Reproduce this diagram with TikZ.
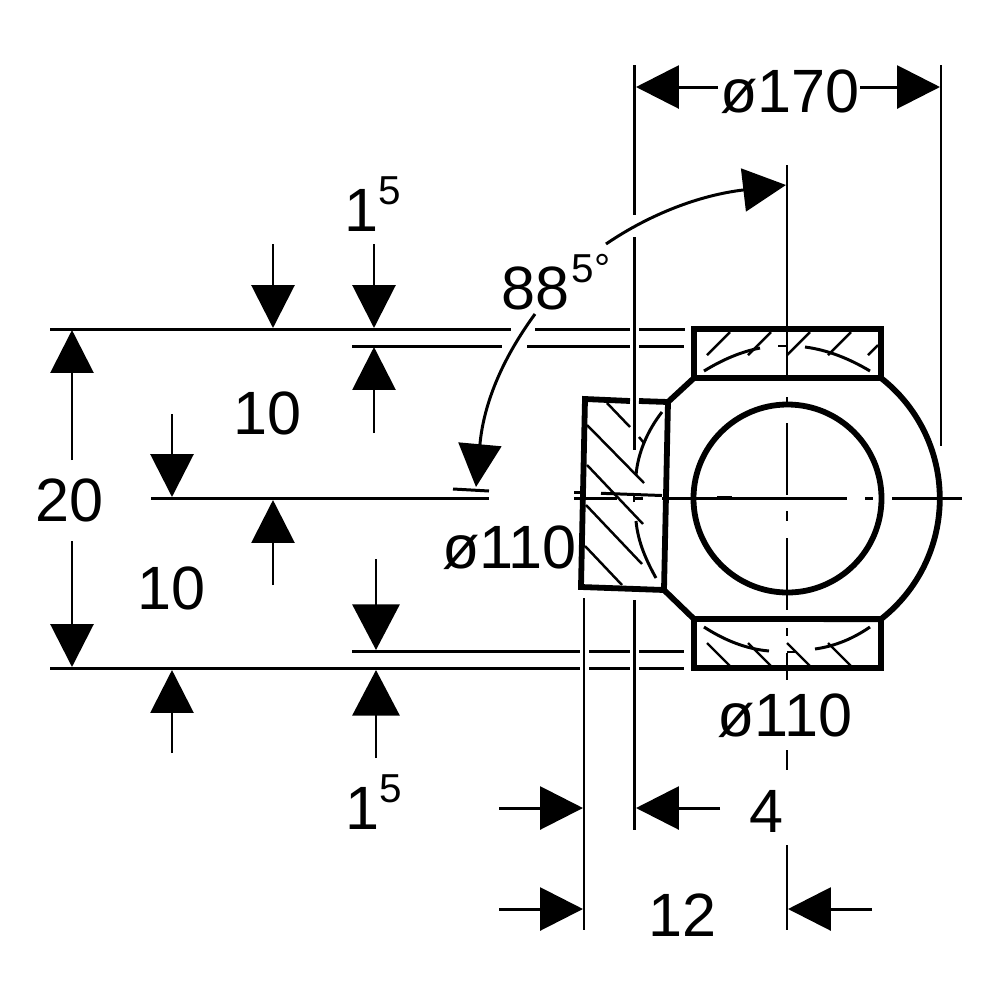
\documentclass[tikz,border=0pt]{standalone}
\usepackage{fontspec}
\setmainfont{Liberation Sans}
\usetikzlibrary{arrows.meta}
\tikzset{
  thinline/.style={line width=0.85pt},
  thickline/.style={line width=1.65pt, line join=miter},
  hatchline/.style={line width=0.7pt},
  seatline/.style={line width=0.85pt},
  dimarrow/.style={line width=0.85pt, -{Triangle[length=12.2pt,width=12.2pt]}},
  bigarrow/.style={line width=0.85pt, -{Triangle[length=13pt,width=13.4pt]}},
  dimtext/.style={inner sep=0pt, font=\fontsize{17.4}{20}\selectfont}
}
\newcommand{\raisednum}[1]{\raisebox{2.7mm}{\fontsize{11.5}{13}\selectfont #1}}
\begin{document}
\begin{tikzpicture}[x=0.1mm,y=-0.1mm]
    \useasboundingbox (0,0) rectangle (1000,1000);
    %ball body
    \draw [thickline] (694,378) -- (881,378) arc [start angle=-52, end angle=52, radius=153] -- (694,619) -- (664,590);
    \draw [thickline] (668,402) -- (694,378);
    \draw [thickline] (787.5,498.5) circle [radius=94];
    %seat rings
    \draw [thickline] (694,329) rectangle (881,378);
    \draw [thickline] (694,619) rectangle (881,668);
    %side ring
    \draw [thickline] (630,401) -- (585,399) -- (581,587) -- (664,590) -- (668,402) -- (639,401);
    %hatching
    \foreach \x in {707,748,787,828} {
        \draw [hatchline] (\x,355) -- ++(23,-23);
        \draw [hatchline] (\x,643) -- ++(24,24);
    }
    \draw [hatchline] (868,355) -- (878,345);
    \draw [hatchline] (607,403) -- (630,427);
    \draw [hatchline] (587,425) -- (644,483);
    \draw [hatchline] (587,465) -- (643,524);
    \draw [hatchline] (586,505) -- (642,564);
    \draw [hatchline] (585,546) -- (622,585);
    \draw [hatchline] (639,437) -- (644,443);
    \draw [hatchline] (778,346) -- (787,346);
    \draw [hatchline] (787,652) -- (795,652);
    %seat curves
    \draw [seatline] (704,371) .. controls (722,360) and (740,352) .. (760,348);
    \draw [seatline] (805,347) .. controls (828,350) and (850,359) .. (870,371);
    \draw [seatline] (704,627) .. controls (724,640) and (746,649) .. (769,651);
    \draw [seatline] (815,649) .. controls (836,646) and (854,638) .. (870,627);
    \draw [seatline] (662,412) .. controls (648,430) and (638,452) .. (636,475);
    \draw [seatline] (636,521) .. controls (638,542) and (646,560) .. (656,578);
    %centre lines
    \draw [thinline] (787,165) -- (787,378);
    \foreach \a/\b in {397/405,423/495,511/521,538/610,628/636,653/680,750/770} {
        \draw [thinline] (787,\a) -- (787,\b);
    }
    \foreach \a/\b in {574/617,634/643,662/847,865/873,892/962} {
        \draw [thinline] (\a,498) -- (\b,498);
    }
    \draw [thinline] (574,492) -- (583,492);
    \draw [thinline] (601,493.3) -- (662,495.5);
    \draw [thinline] (717,497) -- (732,497);
    \draw [thinline] (750,498) -- (758,498);
    \draw [thinline] (634,495) -- (634,502);
    %extension lines
    \draw [thinline] (50,329) -- (511,329);
    \draw [thinline] (535,329) -- (630,329);
    \draw [thinline] (639,329) -- (685,329);
    \draw [thinline] (352,346) -- (502,346);
    \draw [thinline] (527,346) -- (630,346);
    \draw [thinline] (639,346) -- (684,346);
    \draw [thinline] (151,498) -- (489,498);
    \draw [thinline] (453,489) -- (489,491);
    \draw [thinline] (352,651) -- (580,651);
    \draw [thinline] (589,651) -- (630,651);
    \draw [thinline] (639,651) -- (684,651);
    \draw [thinline] (50,668) -- (580,668);
    \draw [thinline] (589,668) -- (630,668);
    \draw [thinline] (639,668) -- (684,668);
    \draw [thinline] (634.5,65) -- (634.5,215);
    \draw [thinline] (634.5,237) -- (634.5,450);
    \draw [thinline] (634.5,600) -- (634.5,830);
    \draw [thinline] (584,598) -- (584,930);
    \draw [thinline] (941,65) -- (941,446);
    \draw [thinline] (787,845) -- (787,930);
    %dimension arrows
    \foreach \x/\a/\b in {273/244/328,374/244/328,172/414/497,374/433/347,273/585/500,172/753/670,72/460/330,72/541/667} {
        \draw [dimarrow] (\x,\a) -- (\x,\b);
    }
    \foreach \a/\b in {559/650,758/670} {
        \draw [bigarrow] (376,\a) -- (376,\b);
    }
    \foreach \a/\b/\y in {718/636/87,860/940/87,499/583/808,720/636/808,499/583/909,872/788/909} {
        \draw [dimarrow] (\a,\y) -- (\b,\y);
    }
    %angle arrows
    \draw [dimarrow] (606,244) .. controls (650,214) and (700,195) .. (786,185);
    \draw [dimarrow] (535,314) .. controls (505,355) and (484,400) .. (476,487);
    %labels
    \node [dimtext] (dia-top) at (790,92) {ø170};
    \node [dimtext] (gap-top) at (372.5,204) {1\raisednum{5}};
    \node [dimtext] (angle) at (556,282) {88\kern0.5pt\raisednum{5°}};
    \node [dimtext] (ten-top) at (267.5,413) {10};
    \node [dimtext] (ten-low) at (171.5,588) {10};
    \node [dimtext] (twenty) at (69.5,500) {20};
    \node [dimtext] (dia-side) at (509.5,548) {ø110};
    \node [dimtext] (dia-low) at (785,716) {ø110};
    \node [dimtext] (gap-low) at (374,802) {1\raisednum{5}};
    \node [dimtext] (four) at (767,811) {4};
    \node [dimtext] (twelve) at (683,915) {12};
\end{tikzpicture}
\end{document}
